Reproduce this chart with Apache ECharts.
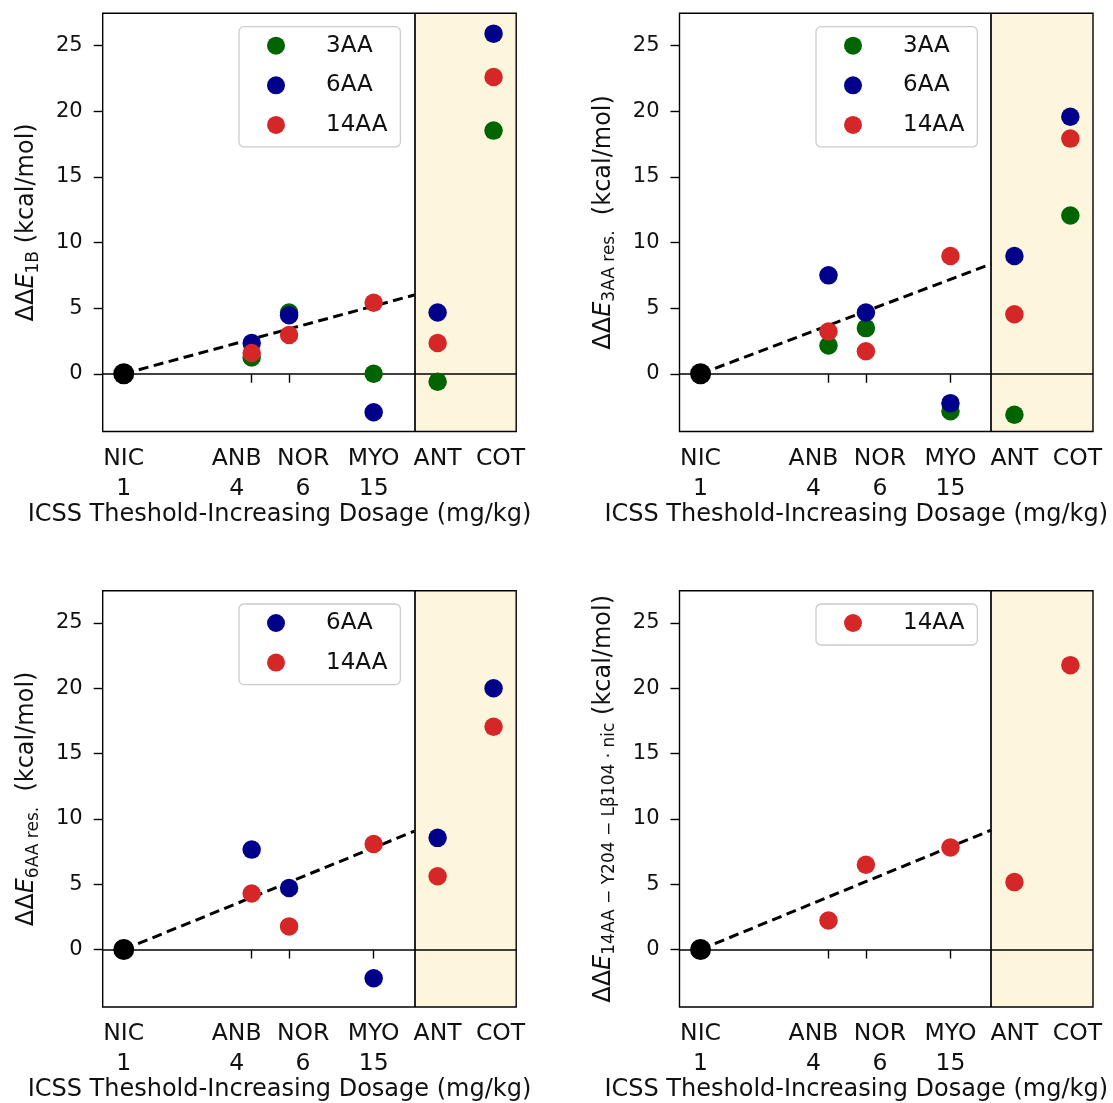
<!DOCTYPE html>
<html><head><meta charset="utf-8">
<script src="https://cdn.jsdelivr.net/npm/echarts@6/dist/echarts.min.js"></script>
<style>html,body{margin:0;padding:0;background:#fff}#c{width:1113px;height:1103px}</style>
</head><body><div id="c"></div><script>
// ---- data ----
const drugs = ['NIC', 'ANB', 'NOR', 'MYO', 'ANT', 'COT'];
const doses = [1, 4, 6, 15, 30, 55];
const doseLabels = ['1', '4', '6', '15', '', ''];
const yTicks = [0, 5, 10, 15, 20, 25];
const groups = ['3AA', '6AA', '14AA'];

const p1_3AA  = [0, 1.24, 4.67, 0.0, -0.61, 18.53];
const p1_6AA  = [0, 2.35, 4.46, -2.93, 4.67, 25.92];
const p1_14AA = [0, 1.58, 2.96, 5.41, 2.35, 22.62];

const p2_3AA  = [0, 2.16, 3.48, -2.85, -3.12, 12.06];
const p2_6AA  = [0, 7.50, 4.67, -2.24, 8.98, 19.59];
const p2_14AA = [0, 3.22, 1.72, 8.98, 4.54, 17.92];

const p3_6AA  = [0, 7.65, 4.71, -2.20, 8.55, 20.00];
const p3_14AA = [0, 4.29, 1.77, 8.08, 5.61, 17.05];

const p4_14AA = [0, 2.22, 6.49, 7.81, 5.16, 21.77];

const fitEnd = [6.0, 8.37, 9.06, 9.14];   // dashed trend line value at the boundary
const boundaryDose = 23.3;                // vertical line / start of shaded region
const xRange = [0.796, 70.3];
const yRange = [-4.4, 27.47];

const yTitles = [
  '{n|ΔΔ}{i|E}{s|1B}{n| (kcal/mol)}',
  '{n|ΔΔ}{i|E}{s|3AA res.}{n|  (kcal/mol)}',
  '{n|ΔΔ}{i|E}{s|6AA res.}{n|  (kcal/mol)}',
  '{n|ΔΔ}{i|E}{s|14AA − Y204 − Lβ104 · nic}{n| (kcal/mol)}'
];
const xTitle = 'ICSS Theshold-Increasing Dosage (mg/kg)';

const panels = [
  {g: {'3AA': p1_3AA, '6AA': p1_6AA, '14AA': p1_14AA}},
  {g: {'3AA': p2_3AA, '6AA': p2_6AA, '14AA': p2_14AA}},
  {g: {'6AA': p3_6AA, '14AA': p3_14AA}},
  {g: {'14AA': p4_14AA}}
];

// ---- styling ----
const FONT = 'DejaVu Sans';
const colors = {'3AA': '#006400', '6AA': '#00008b', '14AA': '#d62728'};
const gridPos = [
  {left: 102.7, top: 13.3}, {left: 679.5, top: 13.3},
  {left: 102.7, top: 590.7}, {left: 679.5, top: 590.7}
];
const legendPos = [
  {left: 239, top: 26.7}, {left: 816, top: 26.7},
  {left: 239, top: 604}, {left: 816, top: 604}
];
const labelShiftStyle = ['c', 'l', 'r', 'c', 'c', 'r2'];

function nearestIdx(v) {
  let k = 0, best = Infinity;
  doses.forEach((d, j) => { const e = Math.abs(Math.log(v / d)); if (e < best) { best = e; k = j; } });
  return k;
}
function xLabel(v) {
  const k = nearestIdx(v);
  const st = labelShiftStyle[k];
  return doseLabels[k] ? `{${st}|${drugs[k]}}\n{${st}|${doseLabels[k]}}` : `{${st}|${drugs[k]}}`;
}
const xl = {fontSize: 23.5, fontFamily: FONT, color: '#111', lineHeight: 30};
const xRich = {
  c: Object.assign({}, xl),
  l: Object.assign({padding: [0, 30, 0, 0]}, xl),
  r: Object.assign({padding: [0, 0, 0, 28]}, xl),
  r2: Object.assign({padding: [0, 0, 0, 14]}, xl)
};
const yRich = {
  n: {fontSize: 24, fontFamily: FONT, color: '#111', lineHeight: 30},
  i: {fontSize: 24, fontFamily: FONT, color: '#111', lineHeight: 30, fontStyle: 'italic'},
  s: {fontSize: 17, fontFamily: FONT, color: '#111', lineHeight: 17, verticalAlign: 'bottom'}
};

const grid = [], xAxis = [], yAxis = [], series = [], legend = [];
panels.forEach((p, i) => {
  grid.push({left: gridPos[i].left, top: gridPos[i].top, width: 413.5, height: 418.2,
    show: true, z: 10, borderColor: '#000', borderWidth: 1.4, backgroundColor: 'transparent'});
  xAxis.push({
    type: 'log', logBase: 10, gridIndex: i, min: xRange[0], max: xRange[1],
    axisLine: {show: false},
    axisTick: {show: true, length: 9, customValues: doses, lineStyle: {color: '#000', width: 1.4}},
    minorTick: {show: false}, splitLine: {show: false},
    axisLabel: {customValues: doses, formatter: xLabel, margin: 12, rich: xRich,
      fontSize: 23.5, fontFamily: FONT, color: '#111'},
    name: xTitle, nameLocation: 'middle', nameGap: 71,
    nameTextStyle: {fontSize: 24, fontFamily: FONT, color: '#111', padding: [0, 60, 0, 0]}
  });
  yAxis.push({
    type: 'value', gridIndex: i, min: yRange[0], max: yRange[1],
    axisLine: {show: false},
    axisTick: {show: true, length: 9, customValues: yTicks, lineStyle: {color: '#000', width: 1.4}},
    splitLine: {show: false},
    axisLabel: {customValues: yTicks, margin: 20, fontSize: 21, fontFamily: FONT, color: '#111'},
    name: yTitles[i], nameLocation: 'middle', nameRotate: 90, nameGap: 61,
    nameTextStyle: {rich: yRich}
  });
  // dashed trend line + reference lines + shaded region
  series.push({
    type: 'line', xAxisIndex: i, yAxisIndex: i, z: 3, silent: true,
    data: [[doses[0], 0], [boundaryDose, fitEnd[i]]], symbol: 'none',
    lineStyle: {color: '#000', width: 3, type: [10, 5.5]},
    markArea: {silent: true, z: 1, itemStyle: {color: '#fef6dc'},
      data: [[{xAxis: boundaryDose}, {xAxis: xRange[1]}]]},
    markLine: {silent: true, z: 5, symbol: 'none', label: {show: false},
      lineStyle: {color: '#000', width: 1.7, type: 'solid'},
      data: [{yAxis: 0}, {xAxis: boundaryDose}]}
  });
  Object.keys(p.g).forEach(name => {
    series.push({
      type: 'scatter', name: name, xAxisIndex: i, yAxisIndex: i, z: 6,
      symbolSize: 18.5, itemStyle: {color: colors[name], opacity: 1},
      data: doses.map((d, j) => [d, p.g[name][j]])
    });
  });
  series.push({
    type: 'scatter', xAxisIndex: i, yAxisIndex: i, z: 7, symbolSize: 21,
    itemStyle: {color: '#000', opacity: 1}, data: [[doses[0], 0]]
  });
  legend.push({
    data: Object.keys(p.g), left: legendPos[i].left, top: legendPos[i].top,
    orient: 'vertical', icon: 'circle', itemWidth: 36, itemHeight: 18, itemGap: 15.6,
    padding: [7, 13, 10, 28], borderColor: '#cccccc', borderWidth: 1.3, borderRadius: 5,
    backgroundColor: 'rgba(255,255,255,0.8)', selectedMode: false,
    textStyle: {fontSize: 23, fontFamily: FONT, color: '#111', lineHeight: 24, padding: [0, 0, 0, 27]}
  });
});

const chart = echarts.init(document.getElementById('c'), null, {renderer: 'canvas'});
chart.setOption({animation: false, backgroundColor: '#fff', grid, xAxis, yAxis, series, legend});
</script></body></html>
